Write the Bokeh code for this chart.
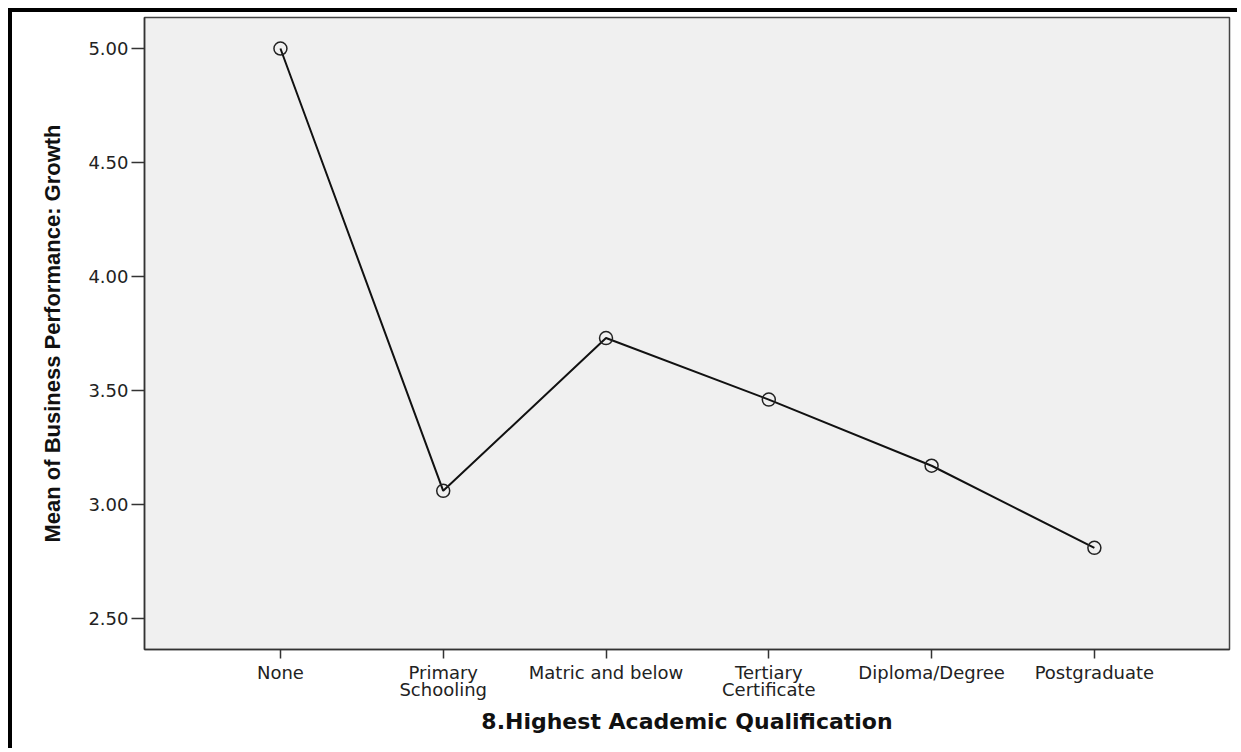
from bokeh.plotting import figure
from bokeh.embed import file_html
from bokeh.resources import INLINE
from bokeh.models import FixedTicker, Range1d

categories = ["None", "Primary\nSchooling", "Matric and below", "Tertiary\nCertificate",
              "Diploma/Degree", "Postgraduate"]
means = [5.00, 3.06, 3.73, 3.46, 3.17, 2.81]
y_ticks = [2.50, 3.00, 3.50, 4.00, 4.50, 5.00]
y_tick_labels = ["2.50", "3.00", "3.50", "4.00", "4.50", "5.00"]

xs = list(range(len(categories)))

p = figure(width=1229, height=740, output_backend="svg", toolbar_location=None,
           x_range=Range1d(-0.835, 5.83), y_range=Range1d(2.364, 5.136),
           min_border_left=132, min_border_right=12, min_border_top=5, min_border_bottom=103)
p.styles = {"border-top": "4px solid black", "border-left": "4px solid black",
            "margin-left": "8px", "margin-top": "8px"}

p.background_fill_color = "#f0f0f0"
p.border_fill_color = "white"
p.outline_line_color = "#444444"
p.outline_line_width = 1.5
p.grid.visible = False

p.line(xs, means, line_color="#111111", line_width=2)
p.scatter(xs, means, size=13, marker="circle", fill_color=None,
          line_color="#222222", line_width=1.5)

p.xaxis.ticker = FixedTicker(ticks=xs)
p.xaxis.major_label_overrides = {i: c for i, c in zip(xs, categories)}
p.yaxis.ticker = FixedTicker(ticks=y_ticks)
p.yaxis.major_label_overrides = {t: l for t, l in zip(y_ticks, y_tick_labels)}

for ax in (p.xaxis, p.yaxis):
    ax.axis_line_color = "#333333"
    ax.axis_line_width = 1.5
    ax.major_tick_line_color = "#333333"
    ax.major_tick_line_width = 1.5
    ax.major_tick_in = 0
    ax.minor_tick_line_color = None
    ax.major_label_text_font = "DejaVu Sans"
    ax.major_label_text_font_size = "18px"
    ax.major_label_text_color = "#222222"
    ax.axis_label_text_color = "#111111"
    ax.axis_label_text_font_style = "bold"

p.xaxis.major_tick_out = 9
p.yaxis.major_tick_out = 13
p.xaxis.major_label_standoff = 3
p.yaxis.major_label_standoff = 3
p.xaxis.major_label_text_line_height = 0.85

p.xaxis.axis_label = "8.Highest Academic Qualification"
p.xaxis.axis_label_text_font = "DejaVu Sans"
p.xaxis.axis_label_text_font_size = "22px"
p.xaxis.axis_label_standoff = 6

p.yaxis.axis_label = "Mean of Business Performance: Growth"
p.yaxis.axis_label_text_font = "Liberation Sans"
p.yaxis.axis_label_text_font_size = "22px"
p.yaxis.axis_label_standoff = 20

open("out.html", "w").write(file_html(p, INLINE))
